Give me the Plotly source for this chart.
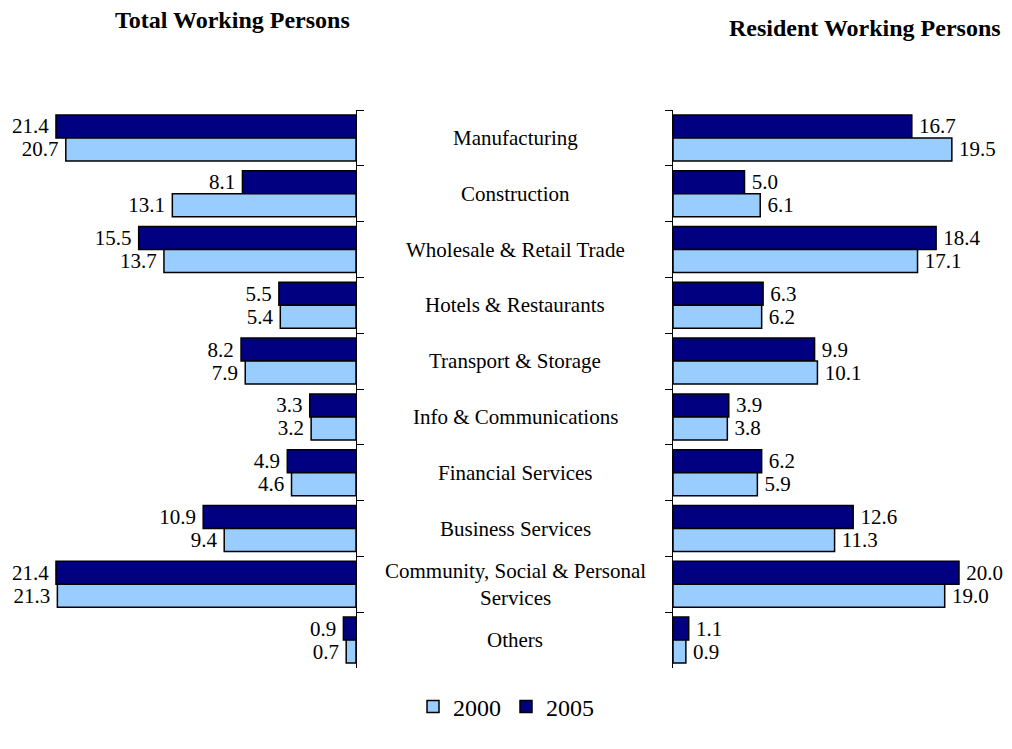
import plotly.graph_objects as go

categories = ["Manufacturing", "Construction", "Wholesale & Retail Trade",
              "Hotels & Restaurants", "Transport & Storage", "Info & Communications",
              "Financial Services", "Business Services",
              "Community, Social & Personal<br>Services", "Others"]
total_2005 = [21.4, 8.1, 15.5, 5.5, 8.2, 3.3, 4.9, 10.9, 21.4, 0.9]
total_2000 = [20.7, 13.1, 13.7, 5.4, 7.9, 3.2, 4.6, 9.4, 21.3, 0.7]
resident_2005 = [16.7, 5.0, 18.4, 6.3, 9.9, 3.9, 6.2, 12.6, 20.0, 1.1]
resident_2000 = [19.5, 6.1, 17.1, 6.2, 10.1, 3.8, 5.9, 11.3, 19.0, 0.9]
series_names = ["2000", "2005"]
color_2000 = "#99CCFF"
color_2005 = "#000080"

FONT = "Liberation Serif, Times New Roman, serif"
W, H = 1012, 749

fig = go.Figure()

def bar(vals, name, color, xa, ya, show, rank, left):
    labels = [(f"{v:.1f}\u2009" if left else f"\u2009{v:.1f}") for v in vals]
    return go.Bar(
        x=vals, y=categories, orientation="h", name=name,
        marker=dict(color=color, line=dict(color="black", width=1.5)),
        text=labels, textposition="outside",
        textfont=dict(family=FONT, size=21, color="black"),
        constraintext="none", cliponaxis=False,
        xaxis=xa, yaxis=ya, showlegend=show, legendrank=rank,
        hoverinfo="skip")

fig.add_trace(bar(total_2005, series_names[1], color_2005, "x", "y", False, 2, True))
fig.add_trace(bar(total_2000, series_names[0], color_2000, "x", "y", False, 1, True))
fig.add_trace(bar(resident_2005, series_names[1], color_2005, "x2", "y2", True, 2, False))
fig.add_trace(bar(resident_2000, series_names[0], color_2000, "x2", "y2", True, 1, False))

y_dom = [1 - 668 / H, 1 - 110 / H]
left_zero, left_start = 356, 40
right_zero, right_end = 673, 983
ppu_left, ppu_right = 14.02, 14.3

common_y = dict(type="category", autorange="reversed", domain=y_dom,
                showline=True, linecolor="black", linewidth=1.2,
                ticks="outside", ticklen=7, tickcolor="black", tickwidth=1.2,
                tickson="boundaries", showticklabels=False, showgrid=False,
                zeroline=False)

fig.update_layout(
    width=W, height=H,
    margin=dict(l=0, r=0, t=0, b=0),
    paper_bgcolor="white", plot_bgcolor="white",
    barmode="group", bargap=0.176, bargroupgap=0,
    font=dict(family=FONT, color="black"),
    xaxis=dict(domain=[left_start / W, left_zero / W],
               range=[(left_zero - left_start) / ppu_left, 0],
               visible=False, anchor="y"),
    yaxis=dict(anchor="x", side="right", **common_y),
    xaxis2=dict(domain=[right_zero / W, right_end / W],
                range=[0, (right_end - right_zero) / ppu_right],
                visible=False, anchor="y2"),
    yaxis2=dict(anchor="x2", side="left", **common_y),
    legend=dict(orientation="h", x=0.5, xanchor="center", y=1 - 707 / H,
                yanchor="middle", font=dict(family=FONT, size=24),
                traceorder="normal", itemwidth=30),
)

annotations = [
    dict(text="<b>Total Working Persons</b>", x=232 / W, y=1 - 20 / H,
         xref="paper", yref="paper", xanchor="center", yanchor="middle",
         showarrow=False, font=dict(family=FONT, size=24)),
    dict(text="<b>Resident Working Persons</b>", x=865 / W, y=1 - 28 / H,
         xref="paper", yref="paper", xanchor="center", yanchor="middle",
         showarrow=False, font=dict(family=FONT, size=24)),
]
for c in categories:
    annotations.append(dict(text=c, x=515 / W, y=c, xref="paper", yref="y",
                            xanchor="center", yanchor="middle",
                            showarrow=False, font=dict(family=FONT, size=21)))
fig.update_layout(annotations=annotations)

fig.write_html("out.html")
